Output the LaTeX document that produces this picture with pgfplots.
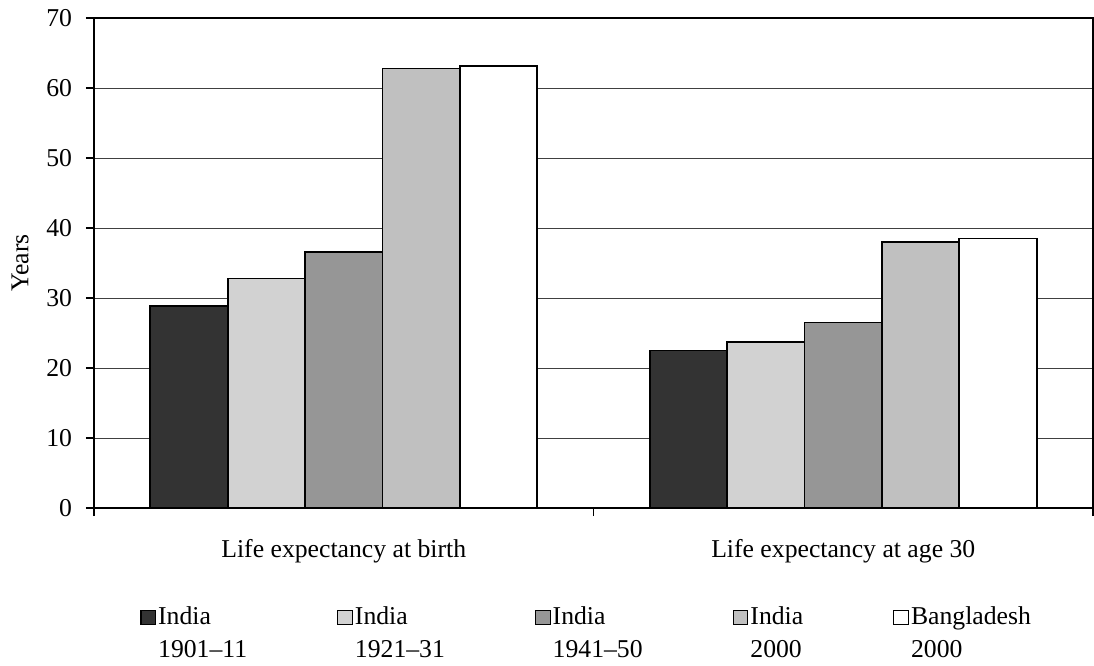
\documentclass[border=0pt]{standalone}
\usepackage{fontspec}
\setmainfont{Liberation Serif}
\usepackage{pgfplots}
\pgfplotsset{compat=1.18}
\definecolor{cA}{HTML}{333333}
\definecolor{cB}{HTML}{D2D2D2}
\definecolor{cC}{HTML}{969696}
\definecolor{cD}{HTML}{C0C0C0}
\definecolor{cE}{HTML}{FFFFFF}
\newcommand{\lgtwo}[2]{\begin{tabular}[t]{@{}l@{}}#1\\#2\end{tabular}}
\begin{document}
\fontsize{12.85}{16.5}\selectfont
\begin{tikzpicture}
\begin{axis}[
  scale only axis,
  width=499.5pt, height=245pt,
  at={(0,0)}, anchor=south west,
  xmin=-0.5, xmax=1.5, ymin=0, ymax=70,
  ybar=0pt, bar width=0.155,
  axis line style={line width=0.6pt},
  tick align=outside, major tick length=4pt,
  tick style={line width=0.6pt, black},
  xtick pos=bottom, ytick pos=left,
  xtick={-0.5,0.5,1.5}, xticklabels={},
  extra x ticks={0,1},
  extra x tick labels={Life expectancy at birth, Life expectancy at age 30},
  extra x tick style={major tick length=0pt, xticklabel style={yshift=-11pt}},
  ytick={0,10,...,70},
  ymajorgrids, grid style={line width=0.5pt, black!75},
  yticklabel style={xshift=-2.5pt},
  /pgf/number format/assume math mode=true,
  tick label style={font=\fontsize{12.85}{15}\selectfont},
  ylabel={Years},
  ylabel style={at={(axis description cs:-0.074,0.5)}, anchor=center, font=\fontsize{12.85}{15}\selectfont},
  legend columns=5,
  legend style={at={(axis description cs:0.046,-0.181)}, anchor=north west, draw=none, inner sep=0pt,
    font=\fontsize{12.85}{16.5}\selectfont,
    cells={anchor=base west},
    /tikz/every odd column/.append style={column sep=-1pt},
    /tikz/every even column/.append style={column sep=43pt}},
  legend image code/.code={\draw[#1, line width=0.6pt] (0pt,-0.3pt) rectangle (7.3pt,7.0pt);},
  every axis plot/.append style={draw=black, line width=0.9pt},
]
\addplot[fill=cA] coordinates {(0,28.9) (1,22.5)};
\addplot[fill=cB] coordinates {(0,32.8) (1,23.7)};
\addplot[fill=cC] coordinates {(0,36.6) (1,26.5)};
\addplot[fill=cD] coordinates {(0,62.8) (1,38.0)};
\addplot[fill=cE] coordinates {(0,63.2) (1,38.5)};
\addlegendentry{\lgtwo{India}{1901--11}}
\addlegendentry{\lgtwo{India}{1921--31}}
\addlegendentry{\lgtwo{India}{1941--50}}
\addlegendentry{\lgtwo{India}{2000}}
\addlegendentry{\lgtwo{Bangladesh}{2000}}
\end{axis}
\pgfresetboundingbox
\path (-47pt,-78.5pt) rectangle (500pt,254pt);
\end{tikzpicture}
\end{document}
